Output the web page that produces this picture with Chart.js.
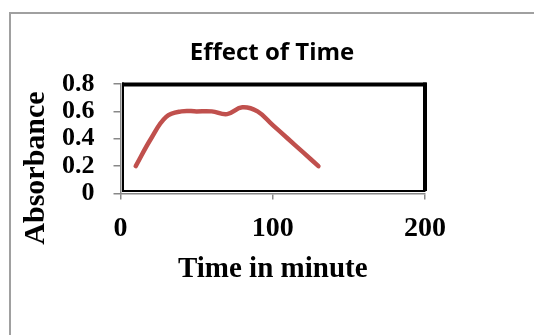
<!DOCTYPE html>
<html>
<head>
<meta charset="utf-8">
<script src="https://cdn.jsdelivr.net/npm/chart.js@4.4.1/dist/chart.umd.min.js"></script>
<style>
  html, body { margin: 0; padding: 0; background: #fff; overflow: hidden; }
  #wrap { width: 534px; height: 335px; position: relative; }
</style>
</head>
<body>
<div id="wrap"><canvas id="c" width="534" height="335"></canvas></div>
<script>
const chartTitle = "Effect of Time";
const xAxisTitle = "Time in minute";
const yAxisTitle = "Absorbance";
const times = [10, 20, 30, 40, 50, 60, 70, 80, 90, 100, 110, 120, 130];
const absorbance = [0.2, 0.4, 0.56, 0.6, 0.6, 0.6, 0.58, 0.63, 0.6, 0.5, 0.4, 0.3, 0.2];
const xTicks = [0, 100, 200];
const yTicks = [0, 0.2, 0.4, 0.6, 0.8];

const serif = "'Liberation Serif', 'Times New Roman', serif";

const decor = {
  id: 'decor',
  beforeDraw(chart) {
    const ctx = chart.ctx;
    ctx.save();
    ctx.fillStyle = '#fff';
    ctx.fillRect(0, 0, chart.width, chart.height);
    // outer frame (top and left visible)
    ctx.strokeStyle = '#a0a0a0';
    ctx.lineWidth = 2;
    ctx.beginPath();
    ctx.moveTo(10, chart.height + 2);
    ctx.lineTo(10, 13);
    ctx.lineTo(chart.width + 2, 13);
    ctx.stroke();
    ctx.restore();
  },
  afterDraw(chart) {
    const ctx = chart.ctx;
    const a = chart.chartArea;
    ctx.save();
    // black plot-area box
    ctx.fillStyle = '#000';
    ctx.fillRect(a.left + 1.5, a.top - 1.5, a.right - a.left, 4);       // top
    ctx.fillRect(a.right - 2, a.top - 1.5, 4, a.bottom - a.top - 1);     // right
    ctx.fillRect(a.left + 1.5, a.bottom - 3.5, a.right - a.left - 1, 2); // bottom
    ctx.fillRect(a.left + 1.5, a.top - 1.5, 2, a.bottom - a.top - 2);    // left
    // chart title
    ctx.fillStyle = '#000';
    ctx.textAlign = 'center';
    ctx.textBaseline = 'middle';
    ctx.font = "bold 24px 'Open Sans', sans-serif";
    ctx.fillText(chartTitle, 272, 53);
    // y axis title
    ctx.font = "bold 30px " + serif;
    ctx.translate(36, 168);
    ctx.rotate(-Math.PI / 2);
    ctx.fillText(yAxisTitle, 0, 0);
    ctx.restore();
  }
};

new Chart(document.getElementById('c'), {
  type: 'line',
  data: {
    datasets: [{
      data: times.map((t, i) => ({ x: t, y: absorbance[i] })),
      borderColor: '#C0504D',
      borderWidth: 4.5,
      borderCapStyle: 'round',
      borderJoinStyle: 'round',
      pointRadius: 0,
      tension: 0.4,
      fill: false
    }]
  },
  options: {
    responsive: false,
    animation: false,
    devicePixelRatio: 1,
    layout: { padding: { left: 0, top: 84, right: 109, bottom: 41.5 } },
    plugins: { legend: { display: false }, title: { display: false }, tooltip: { enabled: false } },
    scales: {
      x: {
        type: 'linear',
        min: 0, max: 200,
        afterBuildTicks: s => { s.ticks = xTicks.map(v => ({ value: v })); },
        afterFit: s => { s.height = 100; },
        ticks: { color: '#000', font: { family: serif, size: 28, weight: 'bold' }, padding: 12, maxRotation: 0, autoSkip: false },
        grid: { drawOnChartArea: false, drawTicks: true, tickLength: 6, color: '#888', lineWidth: 1.5 },
        border: { display: true, color: '#888', width: 1.5 },
        title: { display: true, text: xAxisTitle, color: '#000', font: { family: serif, size: 29, weight: 'bold' }, padding: { top: 0, bottom: 7 } }
      },
      y: {
        min: 0, max: 0.8,
        afterBuildTicks: s => { s.ticks = yTicks.map(v => ({ value: v })); },
        afterFit: s => { s.width = 120.5; },
        ticks: { color: '#000', font: { family: serif, size: 26, weight: 'bold' }, padding: 19, autoSkip: false, callback: v => String(v) },
        grid: { drawOnChartArea: false, drawTicks: true, tickLength: 7, color: '#888', lineWidth: 1.5 },
        border: { display: true, color: '#888', width: 1.5 }
      }
    }
  },
  plugins: [decor]
});
</script>
</body>
</html>
